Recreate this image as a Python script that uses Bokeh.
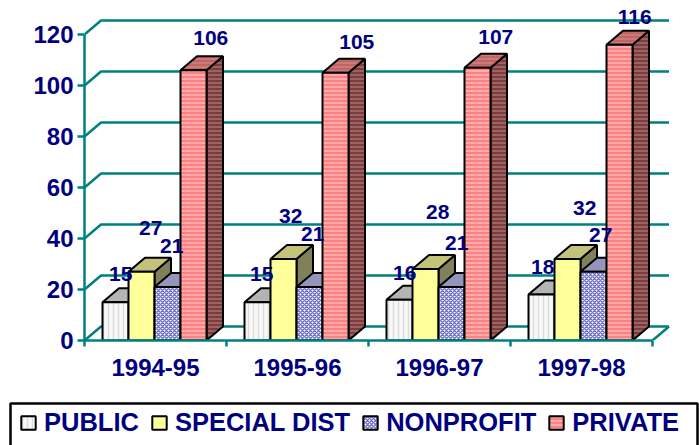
from bokeh.plotting import figure
from bokeh.models import ColumnDataSource, FixedTicker, Legend, LegendItem, Range1d
from bokeh.core.properties import value
from bokeh.embed import file_html
from bokeh.resources import INLINE

categories = ["1994-95", "1995-96", "1996-97", "1997-98"]
public = [15, 15, 16, 18]
special = [27, 32, 28, 32]
nonprofit = [21, 21, 21, 27]
private = [106, 105, 107, 116]
series_names = ["PUBLIC", "SPECIAL DIST", "NONPROFIT", "PRIVATE"]
y_ticks = [0, 20, 40, 60, 80, 100, 120]

# pixel geometry of the pseudo-3D box
PX_X, PX_Y = 142.0, 2.55
DX, DY = 16.5 / PX_X, 14.0 / PX_Y
BW, LEAD = 26.0 / PX_X, 18.0 / PX_X
NAVY, TEAL = "#000080", "#008080"
FONT = "Liberation Sans"

p = figure(width=699, height=390, x_range=Range1d(0, 615 / PX_X), y_range=Range1d(0, 340 / PX_Y),
           output_backend="svg", toolbar_location=None, min_border_left=84, min_border_right=0,
           min_border_top=0, min_border_bottom=50, outline_line_color=None, background_fill_color="white")
p.grid.visible = False

# legend strip under the chart
p2 = figure(width=699, height=55, x_range=Range1d(0, 699), y_range=Range1d(0, 55),
            output_backend="svg", toolbar_location=None, x_axis_location=None, y_axis_location=None,
            min_border_left=0, min_border_right=0, min_border_top=0, min_border_bottom=0,
            outline_line_color=None, background_fill_color="white")
p2.grid.visible = False
p2.quad(left=[10], right=[697], top=[42], bottom=[-20], fill_color=None, line_color="black", line_width=2.5)

# back wall grid and depth diagonals
n = len(categories)
p.multi_line([[0, DX, n + DX] for _ in y_ticks], [[t, t + DY, t + DY] for t in y_ticks],
             line_color=TEAL, line_width=2.5)
p.line([n, n + DX], [0, DY], line_color=TEAL, line_width=2.5)

styles = [
    dict(fill="#f8f8f8", hatch="vertical_line", hc="#dcdcdc", hs=5, top="#b4b4b4", side="#8c8c8c", shc=None),
    dict(fill="#ffff99", hatch=None, hc=None, hs=1, top="#c2c27a", side="#80805a", shc=None),
    dict(fill="white", hatch="diagonal_cross", hc="#7474c4", hs=4, top="#9494bc", side="#6c6c94", shc=None),
    dict(fill="#ff8080", hatch="horizontal_line", hc="#ffb8b8", hs=4, top="#c06464", side="#7a3c3c", shc="#a87070"),
]

items = []
for i, (vals, st, name) in enumerate(zip([public, special, nonprofit, private], styles, series_names)):
    lefts = [g + LEAD + i * BW for g in range(n)]
    rights = [l + BW for l in lefts]
    src_side = ColumnDataSource(dict(
        xs=[[r, r + DX, r + DX, r] for r in rights],
        ys=[[0, DY, v + DY, v] for v in vals]))
    src_top = ColumnDataSource(dict(
        xs=[[l, l + DX, r + DX, r] for l, r in zip(lefts, rights)],
        ys=[[v, v + DY, v + DY, v] for v in vals]))
    side_kw = dict(hatch_pattern="horizontal_line", hatch_color=st["shc"], hatch_scale=4, hatch_weight=1.5) if st["shc"] else {}
    p.patches("xs", "ys", source=src_side, fill_color=st["side"], line_color="black", line_width=2, **side_kw)
    top_kw = dict(hatch_pattern="horizontal_line", hatch_color="#d89090", hatch_scale=4, hatch_weight=1) if st["shc"] else {}
    p.patches("xs", "ys", source=src_top, fill_color=st["top"], line_color="black", line_width=2, **top_kw)
    kw = dict(hatch_pattern=st["hatch"], hatch_color=st["hc"], hatch_scale=st["hs"], hatch_weight=1.5) if st["hatch"] else {}
    p.quad(left=lefts, right=rights, bottom=0, top=vals, fill_color=st["fill"],
           line_color="black", line_width=2, **kw)
    # same style in the legend strip, off its visible range: only its legend swatch shows
    r = p2.quad(left=lefts, right=rights, bottom=[v + 1000 for v in vals], top=[v + 1001 for v in vals],
                fill_color=st["fill"], line_color="black", line_width=2, **kw)
    items.append(LegendItem(label=name, renderers=[r]))

# value labels: nudged by hand as in the reference
label_xs, label_ys, label_txt, off_x, off_y = [], [], [], [], []
nudge_x = [[-3, -4, -3, -7], [1, -1, 4, 9], [-4, -5, -3, -1], [9, 13, 10, 7]]
nudge_y = [[14, 14, 13, 14], [30, 29, 43, 37], [27, 39, 30, 23], [18, 17, 17, 14]]
for i, vals in enumerate([public, special, nonprofit, private]):
    for g in range(n):
        label_xs.append(g + LEAD + (i + 0.5) * BW + DX / 2)
        label_ys.append(vals[g] + DY)
        label_txt.append(str(vals[g]))
        off_x.append(nudge_x[i][g])
        off_y.append(-nudge_y[i][g])
p.text(x=label_xs, y=label_ys, text=label_txt, x_offset=off_x, y_offset=off_y,
       text_font=value(FONT), text_font_style="bold", text_font_size="21px", text_color=NAVY,
       text_align="center", text_baseline="middle")

# axes
la = p.yaxis[0]
la.ticker = FixedTicker(ticks=y_ticks)
la.bounds = (0, 120)
la.axis_line_color = TEAL
la.axis_line_width = 2.5
la.major_tick_line_color = TEAL
la.major_tick_line_width = 2.5
la.major_tick_in = 0
la.major_tick_out = 7
la.minor_tick_line_color = None
la.major_label_standoff = 4
la.major_label_text_font = FONT
la.major_label_text_font_style = "bold"
la.major_label_text_font_size = "24px"
la.major_label_text_color = NAVY

ba = p.xaxis[0]
centers = [g + 0.5 for g in range(n)]
ba.ticker = FixedTicker(ticks=centers, minor_ticks=list(range(n + 1)))
ba.major_label_overrides = {c: t for c, t in zip(centers, categories)}
ba.bounds = (0, n)
ba.axis_line_color = TEAL
ba.axis_line_width = 2.5
ba.major_tick_line_color = None
ba.major_tick_in = 0
ba.major_tick_out = 0
ba.minor_tick_line_color = TEAL
ba.minor_tick_line_width = 2.5
ba.minor_tick_in = 0
ba.minor_tick_out = 6
ba.major_label_standoff = 12
ba.major_label_text_font = FONT
ba.major_label_text_font_style = "bold"
ba.major_label_text_font_size = "24px"
ba.major_label_text_color = NAVY

legend = Legend(items=items, orientation="horizontal", location=(19, 8),
                label_text_font=FONT, label_text_font_style="bold", label_text_font_size="25.5px",
                label_text_color=NAVY, glyph_width=18, glyph_height=17, label_standoff=7, spacing=11,
                padding=0, margin=0, border_line_color=None, background_fill_alpha=0)
p2.add_layout(legend)

open("out.html", "w").write(file_html([p, p2], INLINE))
